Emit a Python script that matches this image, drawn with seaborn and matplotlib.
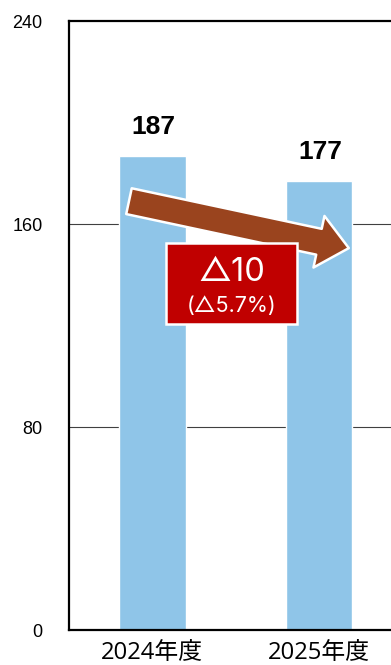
import matplotlib
matplotlib.use("Agg")
import matplotlib.pyplot as plt
import seaborn as sns
import pandas as pd
from matplotlib.patches import FancyArrowPatch, Rectangle

# Data
years = ["2024年度", "2025年度"]
values = [187, 177]
yticks = [0, 80, 160, 240]
change_label = "△10"
change_pct_label = "(△5.7%)"

sns.set_theme(style="white")
plt.rcParams["font.family"] = ["Liberation Sans", "Noto Sans CJK JP", "DejaVu Sans"]

df = pd.DataFrame({"year": years, "value": values})

fig = plt.figure(figsize=(3.91, 6.65), dpi=100)
# plot area runs past the right edge of the figure
ax = fig.add_axes([0.1765, 0.0526, 0.852, 0.9158])

bar_color = "#8FC5E8"
sns.barplot(data=df, x="year", y="value", color=bar_color, width=0.4,
            saturation=1, ax=ax, zorder=2)

ax.set_xlim(-0.5, 1.5)
ax.set_ylim(0, 240)
ax.set_yticks(yticks)
ax.set_yticklabels([str(t) for t in yticks], fontsize=13, family="Liberation Sans")
ax.set_xlabel("")
ax.set_ylabel("")

# horizontal gridlines
for t in yticks[1:-1]:
    ax.axhline(t, color="#404040", linewidth=0.8, zorder=1)

for s in ["left", "bottom", "top", "right"]:
    ax.spines[s].set_color("black")
    ax.spines[s].set_linewidth(1.6)

ax.tick_params(axis="y", length=0, pad=19, labelcolor="black")
ax.tick_params(axis="x", length=0, pad=8, labelcolor="black")
for lbl in ax.get_xticklabels():
    lbl.set_fontsize(17.2)
    lbl.set_family(["Open Sans", "Noto Sans CJK JP"])
ax.set_xticks([0.5], minor=True)
ax.tick_params(axis="x", which="minor", direction="in", length=5, width=0.8, color="#404040")

# value labels above bars
for i, v in enumerate(values):
    ax.annotate(str(v), xy=(i, v), xytext=(1, 12), textcoords="offset points",
                ha="center", va="bottom", fontsize=19, fontweight="bold",
                family=["Liberation Sans Narrow", "Liberation Sans"], color="black")

# trend arrow between the two bars
arrow_kw = dict(arrowstyle="simple,head_length=22,head_width=38,tail_width=19",
                mutation_scale=1, shrinkA=0, shrinkB=0, zorder=4)
arr = FancyArrowPatch((-0.14, values[0] - 18), (1.18, values[1] - 26.5),
                      facecolor="#9A441E", edgecolor="white", linewidth=1.8, **arrow_kw)
ax.add_patch(arr)

# change box
box = Rectangle((0.084, 120.6), 0.783, 31.9, facecolor="#C00000",
                edgecolor="white", linewidth=1.8, zorder=5)
ax.add_patch(box)
cx = 0.084 + 0.783 / 2
box_font = ["Inter", "Noto Sans CJK JP"]
ax.text(cx, 137.5, change_label, ha="center", va="baseline", color="white",
        fontsize=23.5, family=box_font, zorder=6)
ax.text(cx, 125.3, change_pct_label, ha="center", va="baseline", color="white",
        fontsize=15.5, family=box_font, zorder=6)

fig.savefig("out.png", dpi=100)
